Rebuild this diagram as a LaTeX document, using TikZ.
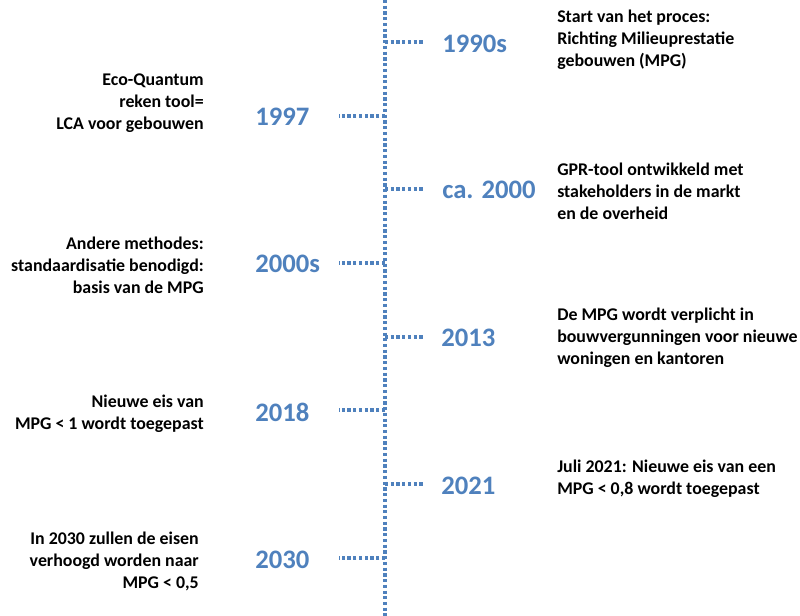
\documentclass[tikz,border=0pt]{standalone}
\usepackage{fontspec}
\setmainfont{Carlito}
\usepackage{tikz}
\usetikzlibrary{positioning}
\definecolor{linec}{RGB}{79,129,189}
\definecolor{yearc}{RGB}{79,129,189}
\tikzset{
  axis/.style={linec,line width=2.4pt,dash pattern=on 2.4pt off 1.9pt},
  tick/.style={axis},
}
\begin{document}
\begin{tikzpicture}[x=0.75pt,y=-0.75pt,
  yr/.style={anchor=west,inner sep=0pt,text=yearc,font=\bfseries\fontsize{20}{22}\selectfont},
  evr/.style={anchor=west,inner sep=0pt,align=left,font=\bfseries\fontsize{13.4}{16.5}\selectfont},
  evl/.style={anchor=east,inner sep=0pt,align=right,font=\bfseries\fontsize{13.4}{16.5}\selectfont}]
  \useasboundingbox (0,0) rectangle (800,616);
  % ---- the time axis ----
  \coordinate (top) at (385,0);
  \coordinate (bot) at (385,616);
  \draw[axis] (top) -- (bot);
  % ---- points on the axis, one per event ----
  \coordinate (p1) at (385,42);
  \coordinate (p2) at (385,116);
  \coordinate (p3) at (385,189);
  \coordinate (p4) at (385,263);
  \coordinate (p5) at (385,337);
  \coordinate (p6) at (385,410);
  \coordinate (p7) at (385,484);
  \coordinate (p8) at (385,558);
  % ends of the dotted ticks
  \coordinate (e1) at (425,42);
  \coordinate (e2) at (339,116);
  \coordinate (e3) at (425,189);
  \coordinate (e4) at (339,263);
  \coordinate (e5) at (425,337);
  \coordinate (e6) at (339,410);
  \coordinate (e7) at (425,484);
  \coordinate (e8) at (339,558);
  \draw[tick] (p1) -- (e1); \draw[tick] (p2) -- (e2);
  \draw[tick] (p3) -- (e3); \draw[tick] (p4) -- (e4);
  \draw[tick] (p5) -- (e5); \draw[tick] (p6) -- (e6);
  \draw[tick] (p7) -- (e7); \draw[tick] (p8) -- (e8);
  % ---- years ----
  \node[yr] (y1990) at (442,44) {1990s};
  \node[yr] (y1997) at (255,117) {1997};
  \node[yr] (y2000) at (442,190) {ca. 2000};
  \node[yr] (y2000s) at (255,264) {2000s};
  \node[yr] (y2013) at (441,338) {2013};
  \node[yr] (y2018) at (255,412) {2018};
  \node[yr] (y2021) at (441,486) {2021};
  \node[yr] (y2030) at (255,560) {2030};
  % ---- right side: what happened ----
  \node[evr] (t1990) at (557,40) {Start van het proces:\\Richting Milieuprestatie\\gebouwen (MPG)};
  \node[evr] (t2000) at (557,191) {GPR-tool ontwikkeld met\\stakeholders in de markt\\en de overheid};
  \node[evr] (t2013) at (557,338) {De MPG wordt verplicht in\\bouwvergunningen voor nieuwe\\woningen en kantoren};
  \node[evr] (t2021) at (557,479) {Juli 2021: Nieuwe eis van een\\MPG < 0,8 wordt toegepast};
  % ---- left side ----
  \node[evl] (t1997) at (204,103) {Eco-Quantum\\reken tool=\\LCA voor gebouwen};
  \node[evl] (t2000s) at (204,265) {Andere methodes:\\standaardisatie benodigd:\\basis van de MPG};
  \node[evl] (t2018) at (204,414) {Nieuwe eis van\\MPG < 1 wordt toegepast};
  \node[evl] (t2030) at (199,561) {In 2030 zullen de eisen\\verhoogd worden naar\\MPG < 0,5};
\end{tikzpicture}
\end{document}
